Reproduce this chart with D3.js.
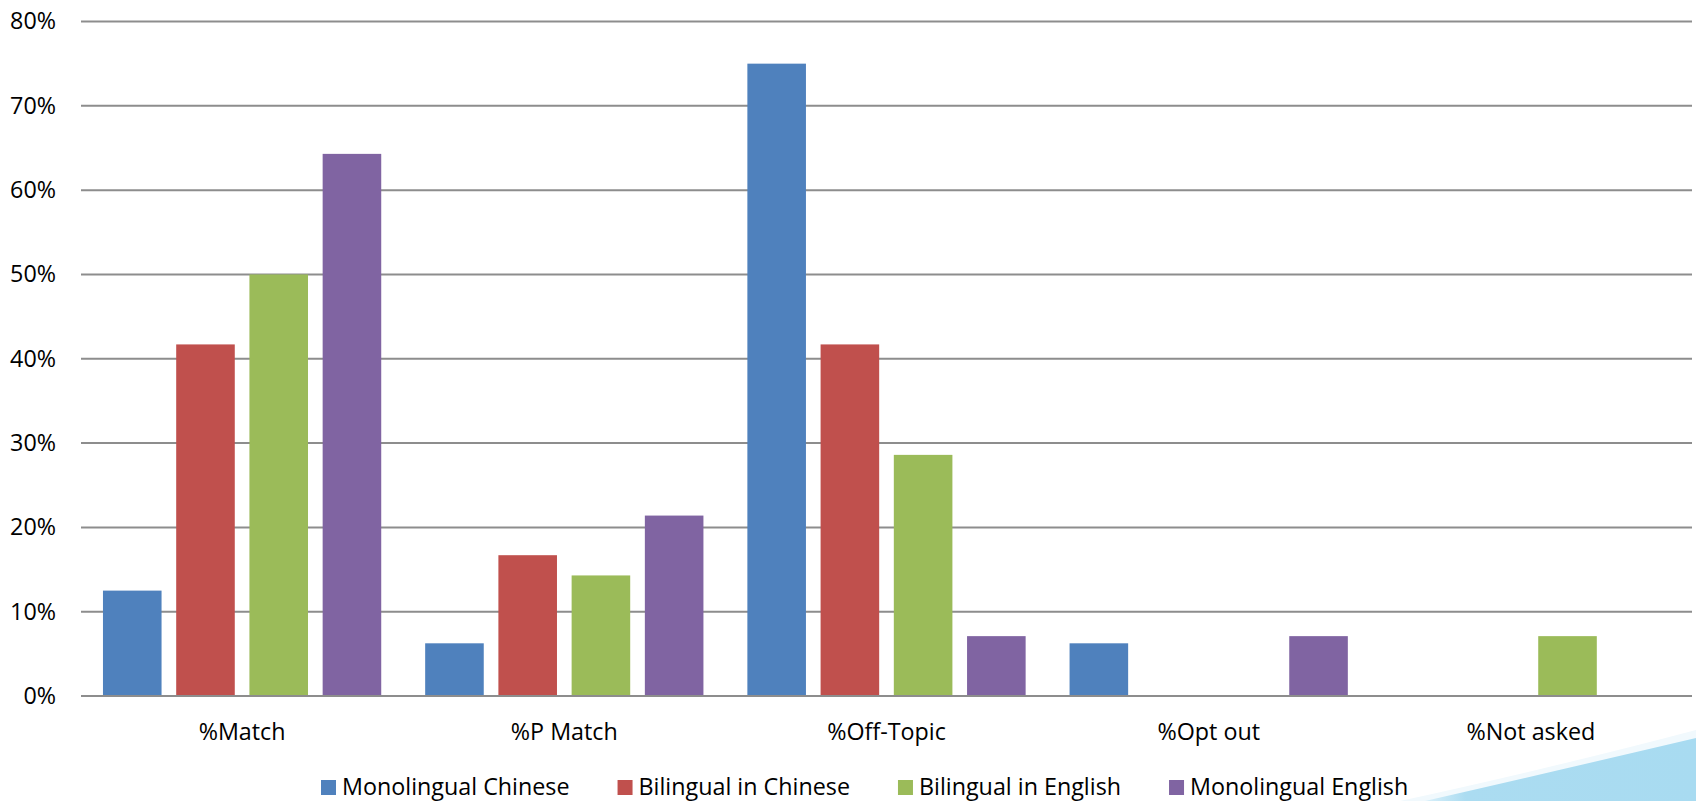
<!DOCTYPE html>
<html>
<head>
<meta charset="utf-8">
<script src="https://cdn.jsdelivr.net/npm/d3@7"></script>
<style>
  html, body { margin: 0; padding: 0; background: #ffffff; }
  svg { display: block; font-family: "Open Sans", "DejaVu Sans", sans-serif; }
</style>
</head>
<body>
<svg id="chart" width="1696" height="801"></svg>
<script>
// Response categories along the x axis
const categories = ["%Match", "%P Match", "%Off-Topic", "%Opt out", "%Not asked"];

// Respondent groups (one bar per group within each category)
const seriesNames = ["Monolingual Chinese", "Bilingual in Chinese", "Bilingual in English", "Monolingual English"];
const seriesColors = ["#4f81bd", "#c0504d", "#9bbb59", "#8064a2"];

// Percentages per group, in category order
const monolingualChinese = [12.5, 6.25, 75.0, 6.25, 0];
const bilingualChinese   = [41.7, 16.7, 41.7, 0, 0];
const bilingualEnglish   = [50.0, 14.3, 28.6, 0, 7.1];
const monolingualEnglish = [64.3, 21.4, 7.1, 7.1, 0];
const seriesValues = [monolingualChinese, bilingualChinese, bilingualEnglish, monolingualEnglish];

// Y axis ticks
const yTicks = [0, 10, 20, 30, 40, 50, 60, 70, 80];

const svg = d3.select("#chart");
const W = 1696, H = 801;
const plot = { left: 81, right: 1692, top: 21.5, bottom: 696 };
const FONT = 23.3;

// Decorative light-blue swoosh in the lower-right corner
const defs = svg.append("defs");
const grad = defs.append("linearGradient")
  .attr("id", "swoosh").attr("x1", "0").attr("y1", "0").attr("x2", "1").attr("y2", "0");
grad.append("stop").attr("offset", "0").attr("stop-color", "#d9f0fa");
grad.append("stop").attr("offset", "0.15").attr("stop-color", "#abdcf1");
grad.append("stop").attr("offset", "1").attr("stop-color", "#a8dbf1");
svg.append("path")
  .attr("d", `M1400,${H} Q1560,766 ${W},730 L${W},${H} Z`)
  .attr("fill", "#f1f9fd");
svg.append("path")
  .attr("d", `M1425,${H} Q1560,770 ${W},738 L${W},${H} Z`)
  .attr("fill", "url(#swoosh)");

const y = d3.scaleLinear().domain([0, 80]).range([plot.bottom, plot.top]);
const x0 = d3.scaleBand().domain(categories).range([plot.left, plot.right]).padding(0);
const x1 = d3.scaleBand().domain(seriesNames).range([0, x0.bandwidth()])
  .paddingInner(0.2).paddingOuter(0.3);

// Horizontal gridlines (including the baseline)
svg.append("g")
  .selectAll("line")
  .data(yTicks)
  .join("line")
  .attr("x1", plot.left).attr("x2", plot.right)
  .attr("y1", d => y(d)).attr("y2", d => y(d))
  .attr("stroke", "#8d8d8d").attr("stroke-width", 2);

// Y axis labels
const yAxis = d3.axisLeft(y).tickValues(yTicks).tickFormat(d => d + "%").tickSize(0).tickPadding(0);
const yg = svg.append("g").attr("transform", `translate(56,0)`).call(yAxis);
yg.select(".domain").remove();
yg.selectAll("text").attr("font-size", FONT).attr("fill", "#000").attr("font-family", "Open Sans");

// Bars
const groups = svg.append("g")
  .selectAll("g")
  .data(seriesNames)
  .join("g")
  .attr("fill", (d, i) => seriesColors[i]);

groups.selectAll("rect")
  .data((name, si) => categories.map((c, ci) => ({ name, cat: c, value: seriesValues[si][ci] })))
  .join("rect")
  .filter(d => d.value > 0)
  .attr("x", d => x0(d.cat) + x1(d.name))
  .attr("width", x1.bandwidth())
  .attr("y", d => y(d.value))
  .attr("height", d => y(0) - y(d.value) - 1);

// X axis category labels
const xAxis = d3.axisBottom(x0).tickSize(0).tickPadding(0);
const xg = svg.append("g").attr("transform", `translate(0,740)`).call(xAxis);
xg.select(".domain").remove();
xg.selectAll("text").attr("font-size", FONT).attr("fill", "#000").attr("dy", 0)
  .attr("font-family", "Open Sans");

// Legend
const legend = svg.append("g").attr("transform", "translate(321,0)");
let lx = 0;
seriesNames.forEach((name, i) => {
  const item = legend.append("g").attr("transform", `translate(${lx},0)`);
  item.append("rect").attr("x", 0).attr("y", 780).attr("width", 15).attr("height", 15)
    .attr("fill", seriesColors[i]);
  const t = item.append("text").attr("x", 21).attr("y", 795)
    .attr("font-size", FONT).attr("fill", "#000").text(name);
  lx += 21 + t.node().getComputedTextLength() + 48;
});
</script>
</body>
</html>
